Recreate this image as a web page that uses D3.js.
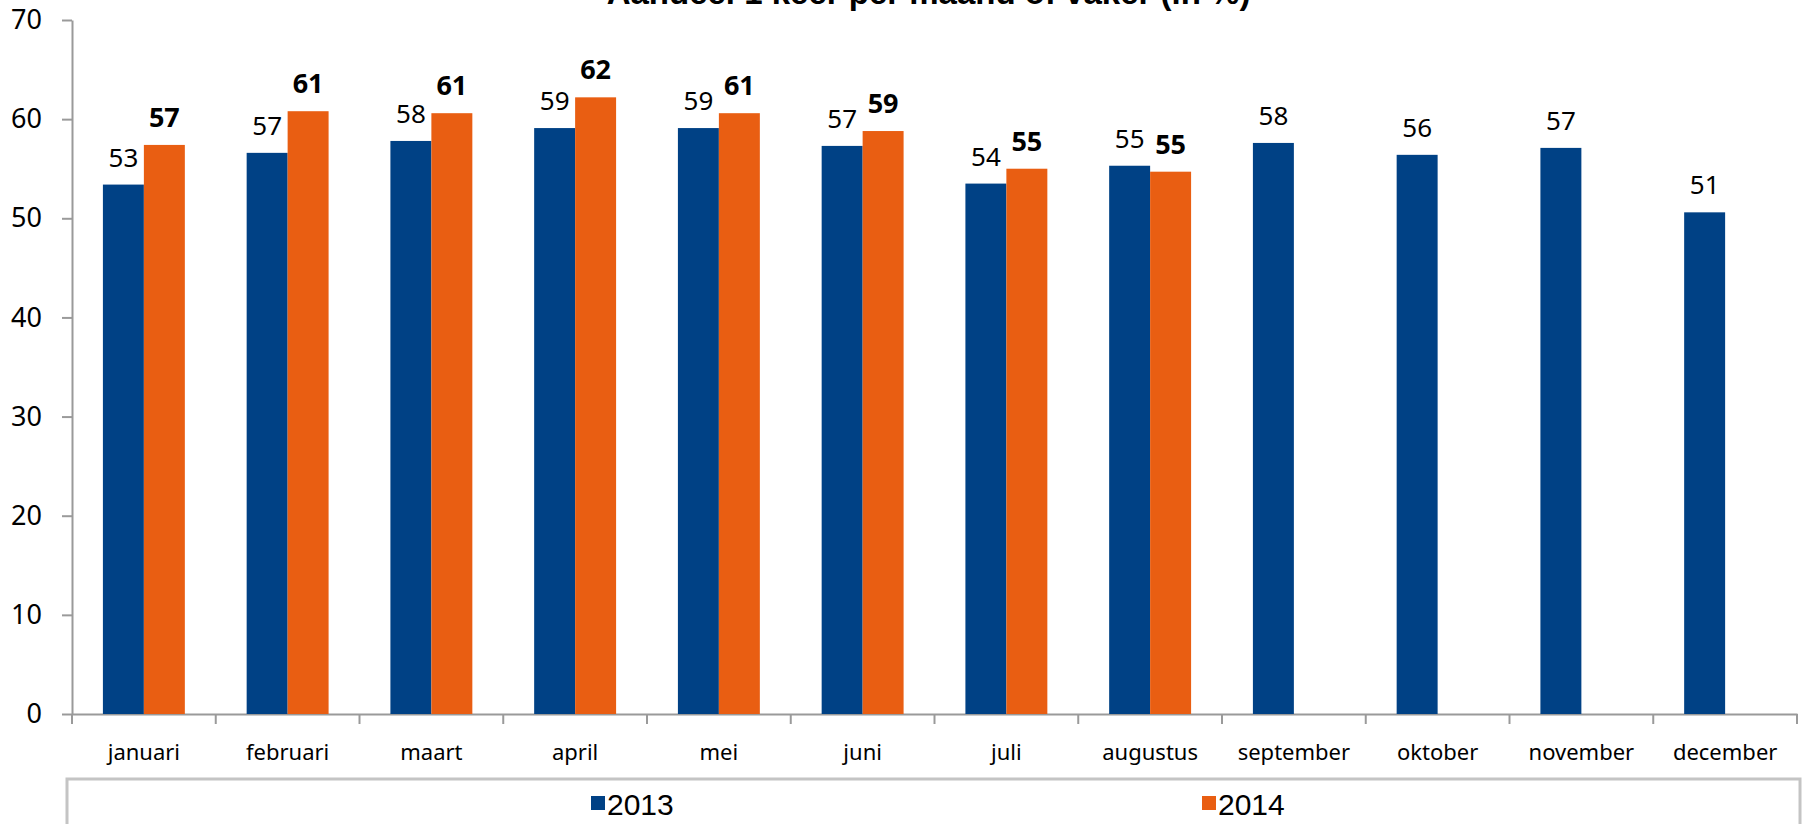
<!DOCTYPE html>
<html>
<head>
<meta charset="utf-8">
<script src="https://cdn.jsdelivr.net/npm/d3@7"></script>
<style>
  body { margin: 0; background: #fff; }
  svg { display: block; }
</style>
</head>
<body>
<div class="vis-holder"></div>
<script>
// months on the x axis
var months = ["januari", "februari", "maart", "april", "mei", "juni",
              "juli", "augustus", "september", "oktober", "november", "december"];
// series names
var years = ["2013", "2014"];
// share (%) per month
var values2013 = [53.4, 56.6, 57.8, 59.1, 59.1, 57.3, 53.5, 55.3, 57.6, 56.4, 57.1, 50.6];
var values2014 = [57.4, 60.8, 60.6, 62.2, 60.6, 58.8, 55.0, 54.7];
// y tick values
var yTicks = [0, 10, 20, 30, 40, 50, 60, 70];
var chartTitle = "Aandeel 1 keer per maand of vaker (in %)";

var colors = { "2013": "#004185", "2014": "#e95e12" };

// svg size
var width = 1807;
var height = 824;
var margin = { top: 20, left: 72, right: 10, bottom: 110 };

var svg = d3.select(".vis-holder")
            .append("svg")
            .attr("width", width)
            .attr("height", height);

// one band per month, bar pair sits in the middle of the band
var x0 = d3.scaleBand()
           .domain(months)
           .range([margin.left, width - margin.right])
           .paddingInner(0.43)
           .paddingOuter(0.215);

var x1 = d3.scaleBand()
           .domain(years)
           .range([0, x0.bandwidth()]);

var yScale = d3.scaleLinear()
               .domain([0, 70])
               .range([height - margin.bottom, margin.top]);

// build flat rows for the bars
var rows = [];
months.forEach(function(m, i) {
  rows.push({ month: m, year: "2013", value: values2013[i] });
  if (i < values2014.length) rows.push({ month: m, year: "2014", value: values2014[i] });
});

// y axis
var yAxis = svg.append("g")
               .attr("transform", `translate(${margin.left}, 0)`)
               .call(d3.axisLeft(yScale).tickValues(yTicks).tickSize(10).tickSizeOuter(0).tickPadding(20));
yAxis.selectAll("path, line").attr("stroke", "#9a9a9a").attr("stroke-width", 2);
yAxis.selectAll("text")
     .attr("fill", "#000")
     .style("font-family", "'Noto Sans', 'Open Sans', sans-serif")
     .style("font-size", "27px");

// x axis: labels in band centres, ticks on band edges
var xAxis = svg.append("g")
               .attr("transform", `translate(0, ${height - margin.bottom})`)
               .call(d3.axisBottom(x0).tickSize(0).tickSizeOuter(0).tickPadding(30));
xAxis.select("path").attr("stroke", "#9a9a9a").attr("stroke-width", 2);
xAxis.selectAll("text")
     .attr("fill", "#000")
     .style("font-family", "'Noto Sans', 'Open Sans', sans-serif")
     .style("font-size", "22px");

var edges = months.map(function(m) { return x0(m) - x0.step() * x0.paddingOuter(); });
edges.push(width - margin.right);
xAxis.selectAll(".edge")
     .data(edges)
     .enter()
     .append("line")
     .attr("class", "edge")
     .attr("x1", function(d) { return d; })
     .attr("x2", function(d) { return d; })
     .attr("y1", 0)
     .attr("y2", 10)
     .attr("stroke", "#9a9a9a")
     .attr("stroke-width", 2);

// bars
svg.append("g")
   .selectAll("rect")
   .data(rows)
   .enter()
   .append("rect")
   .attr("x", function(d) { return x0(d.month) + x1(d.year); })
   .attr("y", function(d) { return yScale(d.value); })
   .attr("width", x1.bandwidth())
   .attr("height", function(d) { return yScale(0) - yScale(d.value); })
   .attr("fill", function(d) { return colors[d.year]; });

// value labels, 2014 in bold
svg.append("g")
   .selectAll("text")
   .data(rows)
   .enter()
   .append("text")
   .attr("x", function(d) { return x0(d.month) + x1(d.year) + x1.bandwidth() / 2; })
   .attr("y", function(d) { return yScale(d.value) - 18; })
   .attr("text-anchor", "middle")
   .style("font-family", "'Noto Sans', 'Open Sans', sans-serif")
   .style("font-size", function(d) { return d.year === "2014" ? "27px" : "26px"; })
   .style("font-weight", function(d) { return d.year === "2014" ? "bold" : "normal"; })
   .text(function(d) { return d3.format(".0f")(d.value); });

// title, cut off at the top like the original
svg.append("text")
   .attr("x", (margin.left + width - margin.right) / 2 - 6)
   .attr("y", 4)
   .attr("text-anchor", "middle")
   .style("font-family", "'Liberation Sans', Arial, sans-serif")
   .style("font-size", "33px")
   .style("font-weight", "bold")
   .text(chartTitle);

// legend box
svg.append("rect")
   .attr("x", 67)
   .attr("y", 779)
   .attr("width", 1733)
   .attr("height", 120)
   .attr("fill", "none")
   .attr("stroke", "#c4c4c4")
   .attr("stroke-width", 3);

var legendX = d3.scaleOrdinal().domain(years).range([591, 1202]);
var legend = svg.append("g")
                .selectAll("g")
                .data(years)
                .enter()
                .append("g")
                .attr("transform", function(d) { return `translate(${legendX(d)}, 0)`; });
legend.append("rect")
      .attr("x", 0)
      .attr("y", 796)
      .attr("width", 14)
      .attr("height", 14)
      .attr("fill", function(d) { return colors[d]; });
legend.append("text")
      .attr("x", 16)
      .attr("y", 815)
      .style("font-family", "'Liberation Sans', Arial, sans-serif")
      .style("font-size", "30px")
      .text(function(d) { return d; });
</script>
</body>
</html>
